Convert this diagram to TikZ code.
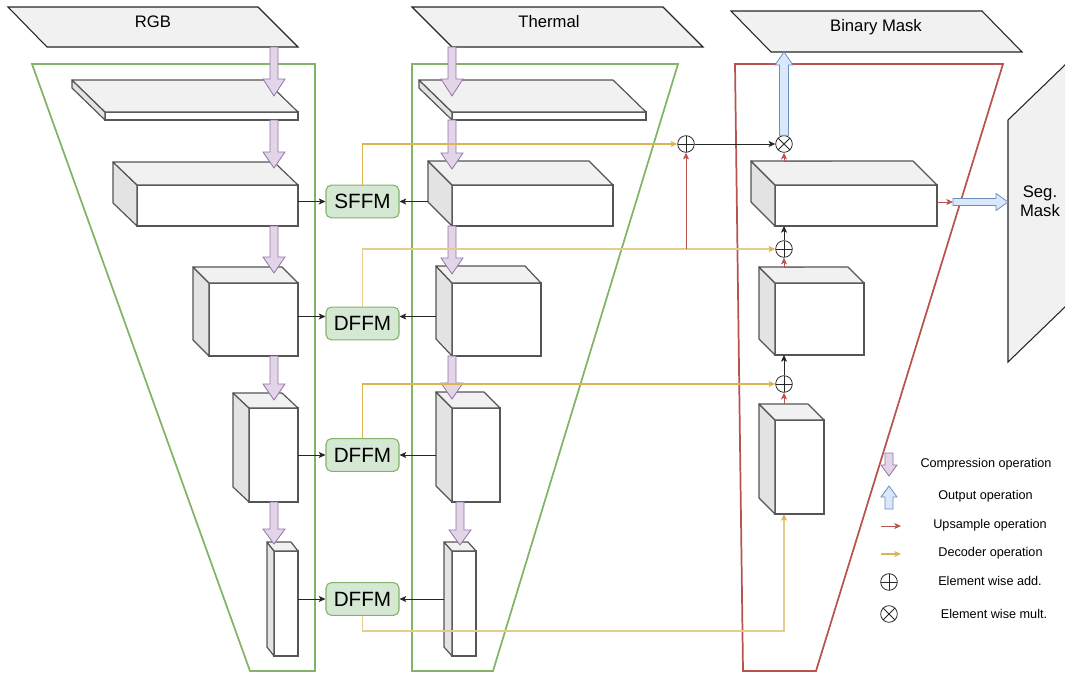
\documentclass[tikz,border=0pt]{standalone}
\usepackage{fontspec}
\setmainfont{Liberation Sans}
\usetikzlibrary{arrows.meta,calc}

\definecolor{grn}{HTML}{82B366}
\definecolor{grnfill}{HTML}{D5E8D4}
\definecolor{rd}{HTML}{B85450}
\definecolor{pfill}{HTML}{E1D5E7}
\definecolor{pline}{HTML}{9673A6}
\definecolor{bfill}{HTML}{DAE8FC}
\definecolor{bline}{HTML}{6C8EBF}
\definecolor{org}{HTML}{DDB44E}
\definecolor{orgl}{HTML}{E3CC8E}
\definecolor{shp}{HTML}{F1F1F1}
\definecolor{sidec}{HTML}{E3E3E3}
\definecolor{edgec}{HTML}{555555}

\tikzset{
  frame/.style={line width=1.3pt},
  para/.style={draw=black!85, fill=shp, line width=0.8pt},
  cubefront/.style={draw=edgec, fill=white, line width=0.9pt, inner sep=0pt, outer sep=0pt, rectangle},
  cubeface/.style={draw=edgec, line width=0.9pt, line join=round},
  ffm/.style={draw=grn, fill=grnfill, rounded corners=4pt, line width=0.8pt,
    minimum width=54.75pt, minimum height=24.5pt, inner sep=0pt,
    font=\fontsize{15.5}{18}\selectfont},
  lbl/.style={font=\fontsize{12.5}{14}\selectfont, align=center},
  leg/.style={font=\fontsize{9.5}{11}\selectfont},
  tip/.style={-{Stealth[length=5pt,width=4.5pt,inset=1.2pt]}},
  conn/.style={draw=black!85, line width=0.6pt, tip},
  upc/.style={draw=rd, line width=0.6pt, tip},
  decc/.style={draw=org, line width=0.8pt, tip},
  decl/.style={draw=orgl, line width=0.8pt, -{Stealth[length=5pt,width=4.5pt,inset=1.2pt,color=org]}},
  comp/.style={draw=pline, fill=pfill, line width=0.6pt, line join=miter},
  outp/.style={draw=bline, fill=bfill, line width=0.6pt, line join=miter},
  oplusn/.style={circle, draw=black!85, line width=0.6pt, minimum size=12.5pt, inner sep=0pt,
    path picture={\draw[line width=0.6pt] (path picture bounding box.north) -- (path picture bounding box.south)
      (path picture bounding box.west) -- (path picture bounding box.east);}},
  otimesn/.style={circle, draw=black!85, line width=0.6pt, minimum size=12.5pt, inner sep=0pt,
    path picture={\draw[line width=0.6pt] (path picture bounding box.north west) -- (path picture bounding box.south east)
      (path picture bounding box.south west) -- (path picture bounding box.north east);}},
}

% cube: name, x1, y1, x2, y2 (front face), dx, dy (depth)
\newcommand{\mycube}[7]{%
  \node[cubefront, anchor=north west, minimum width={(#4-#2)*0.75pt}, minimum height={(#5-#3)*0.75pt}] (#1) at (#2,#3) {};
  \coordinate (#1-back) at ({#2-#6},{#3-#7});
  \draw[cubeface, fill=sidec] (#1.north west) -- (#1-back) -- ++(0,{#5-#3}) -- (#1.south west) -- cycle;
  \draw[cubeface, fill=shp] (#1.north west) -- (#1-back) -- ++({#4-#2},0) -- (#1.north east) -- cycle;
}
% vertical block arrow: start, tip, shaft half, head half, head length (signed, + = down), style
\newcommand{\myvarrow}[6]{%
  \draw[#6] ($(#1)+({-#3},0)$) -- ($(#2)+({-#3},{-(#5)})$) -- ($(#2)+({-#4},{-(#5)})$) -- (#2)
    -- ($(#2)+({#4},{-(#5)})$) -- ($(#2)+({#3},{-(#5)})$) -- ($(#1)+({#3},0)$) -- cycle;}
% horizontal block arrow to the right
\newcommand{\myharrow}[6]{%
  \draw[#6] ($(#1)+(0,{-#3})$) -- ($(#2)+({-(#5)},{-#3})$) -- ($(#2)+({-(#5)},{-#4})$) -- (#2)
    -- ($(#2)+({-(#5)},{#4})$) -- ($(#2)+({-(#5)},{#3})$) -- ($(#1)+(0,{#3})$) -- cycle;}

\begin{document}
\begin{tikzpicture}[x=0.75pt,y=-0.75pt]
\useasboundingbox (0,0) rectangle (1065,675);
\clip (0,0) rectangle (1065,675);

% frames
\draw[frame, draw=grn] (32,64) -- (315,64) -- (315,671) -- (250,671) -- cycle;
\draw[frame, draw=grn] (412,64) -- (678,64) -- (493,671) -- (412,671) -- cycle;
\draw[frame, draw=rd] (735,64) -- (1003,64) -- (816,671) -- (743,671) -- cycle;

% input / output planes
\draw[para] (8,7) -- (258,7) -- (298,47) -- (47,47) -- cycle;
\node[lbl] (rgb) at (153,22) {RGB};
\draw[para] (412,7) -- (663,7) -- (703,47) -- (452,47) -- cycle;
\node[lbl] (thermal) at (549,22) {Thermal};
\draw[para] (731,11) -- (982,11) -- (1022,52) -- (771,52) -- cycle;
\node[lbl] (binmask) at (876,27) {Binary Mask};
\draw[para] (1008,120) -- (1080,50.5) -- (1080,292.5) -- (1008,362) -- cycle;
\node[lbl] (segmask) at (1040,201) {Seg.\\Mask};

\coordinate (rgb-b) at (274,47);
\coordinate (th-b) at (452,47);
\coordinate (bm-b) at (784,52);
\coordinate (seg-l) at (1008,202);
\coordinate (segin) at (953,202);

% RGB encoder
\mycube{r1}{105}{112}{298}{120}{33}{32}
\mycube{r2}{137}{185}{298}{226}{24}{23}
\mycube{r3}{209}{283}{298}{356}{16}{16}
\mycube{r4}{249}{408}{298}{502}{16}{15}
\mycube{r5}{274}{551}{298}{656}{7}{9}
% Thermal encoder
\mycube{t1}{452}{112}{646}{120}{33}{32}
\mycube{t2}{452}{185}{613}{226}{24}{24}
\mycube{t3}{452}{283}{541}{356}{16}{17}
\mycube{t4}{452}{408}{500}{502}{16}{16}
\mycube{t5}{452}{551}{476}{656}{8}{9}
% decoder
\mycube{dA}{775}{185}{937}{226}{24}{24}
\mycube{dB}{775}{283}{864}{355}{16}{16}
\mycube{dC}{775}{420}{824}{514}{16}{16}

% compression arrows
\myvarrow{rgb-b}{274,96}{4}{11}{17}{comp}
\myvarrow{274,120}{274,168}{4}{11}{16}{comp}
\myvarrow{274,226}{274,273}{4}{11}{16}{comp}
\myvarrow{274,356}{274,400}{4}{11}{16}{comp}
\myvarrow{274,502}{274,544}{4}{11}{15}{comp}
\myvarrow{th-b}{452,96}{4}{11}{17}{comp}
\myvarrow{452,120}{452,169}{4}{11}{16}{comp}
\myvarrow{452,226}{452,274}{4}{11}{16}{comp}
\myvarrow{452,356}{452,399}{4}{11}{16}{comp}
\myvarrow{460,502}{460,545}{4}{11}{15}{comp}

% fusion modules
\node[ffm] (sffm) at (362.5,201.5) {SFFM};
\node[ffm] (dffm1) at (362.5,323.5) {DFFM};
\node[ffm] (dffm2) at (362.5,455) {DFFM};
\node[ffm] (dffm3) at (362.5,599) {DFFM};
\coordinate (d1in) at ($(dffm1.west)+(0,-7)$);
\coordinate (d1inr) at ($(dffm1.east)+(0,-7)$);

% operators
\node[oplusn] (o1) at (686,144) {};
\node[otimesn] (x1) at (784,144) {};
\node[oplusn] (o2) at (784,249) {};
\node[oplusn] (o3) at (784,384) {};
\coordinate (dbot) at (784,631);

% encoder -> fusion
\draw[conn] (r2.east |- sffm.west) -- (sffm.west);
\draw[conn] (r3.east |- d1in) -- (d1in);
\draw[conn] (r4.east |- dffm2.west) -- (dffm2.west);
\draw[conn] (r5.east |- dffm3.west) -- (dffm3.west);
\draw[conn] (t2-back |- sffm.east) -- (sffm.east);
\draw[conn] (t3-back |- d1inr) -- (d1inr);
\draw[conn] (t4-back |- dffm2.east) -- (dffm2.east);
\draw[conn] (t5-back |- dffm3.east) -- (dffm3.east);

% decoder lines
\draw[decc] (sffm.north) |- (o1.west);
\draw[decl] (dffm1.north) |- (o2.west);
\draw[decc] (dffm2.north) |- (o3.west);
\draw[decl] (dffm3.south) |- (dbot) -- (dbot |- dC.south);

% upsample
\draw[upc] (o1 |- o2) -- (o1.south);
\draw[rd, line width=0.6pt] (x1 |- dA-back) -- ++(48,0);
\draw[upc] (x1 |- dA-back) -- (x1.south);
\draw[rd, line width=0.6pt] (o2 |- dB-back) -- ++(20,0);
\draw[upc] (o2 |- dB-back) -- (o2.south);
\draw[upc] (o3 |- dC-back) -- (o3.south);
\draw[upc] (dA.east |- segin) -- (segin);

% black sums
\draw[conn] (o1.east) -- (x1.west);
\draw[conn] (o2.north) -- (o2 |- dA.south);
\draw[conn] (o3.north) -- (o3 |- dB.south);

% output arrows
\myvarrow{x1.north}{bm-b}{4.5}{9}{-13}{outp}
\myharrow{segin}{seg-l}{3.5}{8.5}{12}{outp}

% legend
\myvarrow{889,453}{889,476}{4}{8}{11}{comp}
\node[leg] (lg1) at (986,464) {Compression operation};
\myvarrow{889,509}{889,486}{4}{8}{-11}{outp}
\node[leg] (lg2) at (985.5,496) {Output operation};
\coordinate (lu1) at (881,526);
\coordinate (lu2) at (901,526);
\draw[upc] (lu1) -- (lu2);
\node[leg] (lg3) at (990,525) {Upsample operation};
\coordinate (ld1) at (881,554);
\coordinate (ld2) at (901,554);
\draw[decc] (ld1) -- (ld2);
\node[leg] (lg4) at (990.5,553) {Decoder operation};
\node[oplusn] (lgo) at (889,582) {};
\node[leg] (lg5) at (990,581) {Element wise add.};
\node[otimesn] (lgx) at (889,614) {};
\node[leg] (lg6) at (994,614) {Element wise mult.};
\end{tikzpicture}
\end{document}
